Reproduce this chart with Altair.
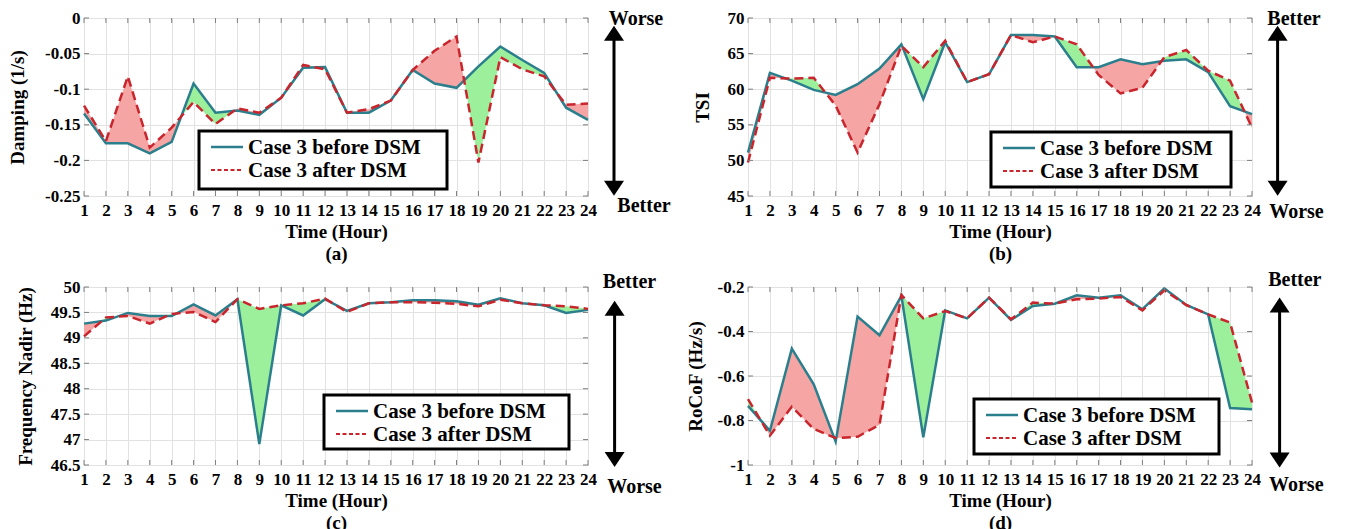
import altair as alt
import pandas as pd

hours = list(range(1, 25))

damping_before = [-0.134, -0.176, -0.176, -0.190, -0.174, -0.092, -0.133, -0.130, -0.136, -0.112, -0.070, -0.069,
                  -0.133, -0.133, -0.116, -0.073, -0.092, -0.098, -0.068, -0.040, -0.059, -0.077, -0.126, -0.143]
damping_after = [-0.123, -0.173, -0.082, -0.182, -0.154, -0.118, -0.149, -0.127, -0.133, -0.112, -0.066, -0.072,
                 -0.133, -0.128, -0.116, -0.073, -0.046, -0.026, -0.203, -0.055, -0.072, -0.082, -0.122, -0.120]

tsi_before = [51.1, 62.3, 61.2, 59.9, 59.2, 60.7, 62.9, 66.3, 58.6, 66.6, 61.0, 62.1,
              67.6, 67.6, 67.4, 63.1, 63.1, 64.2, 63.5, 64.0, 64.2, 62.4, 57.6, 56.5]
tsi_after = [49.7, 61.6, 61.5, 61.6, 57.7, 51.1, 57.9, 66.1, 63.1, 66.8, 61.0, 62.1,
             67.6, 66.6, 67.4, 66.3, 62.0, 59.4, 60.2, 64.5, 65.5, 62.6, 61.2, 54.6]

nadir_before = [49.28, 49.34, 49.49, 49.43, 49.43, 49.66, 49.44, 49.76, 46.91, 49.64, 49.44, 49.76,
                49.53, 49.68, 49.70, 49.74, 49.74, 49.72, 49.65, 49.78, 49.68, 49.64, 49.49, 49.55]
nadir_after = [49.03, 49.40, 49.43, 49.28, 49.47, 49.51, 49.31, 49.76, 49.57, 49.64, 49.68, 49.77,
               49.51, 49.68, 49.70, 49.70, 49.69, 49.67, 49.62, 49.75, 49.68, 49.64, 49.62, 49.57]

rocof_before = [-0.734, -0.846, -0.477, -0.637, -0.895, -0.333, -0.417, -0.240, -0.876, -0.305, -0.341, -0.248,
                -0.348, -0.285, -0.275, -0.237, -0.248, -0.237, -0.300, -0.206, -0.281, -0.323, -0.744, -0.749]
rocof_after = [-0.704, -0.868, -0.738, -0.838, -0.879, -0.873, -0.819, -0.236, -0.341, -0.308, -0.341, -0.248,
               -0.345, -0.270, -0.275, -0.255, -0.252, -0.245, -0.305, -0.215, -0.281, -0.323, -0.360, -0.719]

damping_ticks = [-0.25, -0.2, -0.15, -0.1, -0.05, 0]
tsi_ticks = [45, 50, 55, 60, 65, 70]
nadir_ticks = [46.5, 47, 47.5, 48, 48.5, 49, 49.5, 50]
rocof_ticks = [-1, -0.8, -0.6, -0.4, -0.2]

TEAL = "#2b7f8d"
RED = "#c9252c"
FILL_WORSE = "#f6a5a5"
FILL_BETTER = "#9cf09c"
FRAME = "#7f7f7f"
FONT = "Liberation Serif"
W, H = 504, 178


def fill_rows(before, after, higher_better):
    s = 1 if higher_better else -1
    n = len(hours)
    pts = []
    for i in range(n):
        d = (after[i] - before[i]) * s
        pts.append((hours[i], before[i], after[i], d))
        if i < n - 1:
            d2 = (after[i + 1] - before[i + 1]) * s
            if d * d2 < 0:
                t = d / (d - d2)
                xc = hours[i] + t * (hours[i + 1] - hours[i])
                yc = before[i] + t * (before[i + 1] - before[i])
                pts.append((xc, yc, yc, 0.0))
    rows = []
    run, cur, last = 0, None, -1
    for j in range(len(pts) - 1):
        p, q = pts[j], pts[j + 1]
        dm = p[3] if p[3] != 0 else q[3]
        if dm == 0:
            continue
        cls = "better" if dm > 0 else "worse"
        if cls != cur or last != j:
            run += 1
            cur = cls
            rows.append({"hour": p[0], "lo": p[1], "hi": p[2], "run": run, "cls": cls})
        rows.append({"hour": q[0], "lo": q[1], "hi": q[2], "run": run, "cls": cls})
        last = j + 1
    return pd.DataFrame(rows)


one = pd.DataFrame({"k": [0]})


def txt(x, y, s, size, align="center", baseline="alphabetic"):
    return alt.Chart(one).mark_text(align=align, baseline=baseline, font=FONT, fontWeight="bold",
                                    fontSize=size, color="black").encode(
        x=alt.value(x), y=alt.value(y), text=alt.value(s))


def panel(before, after, higher_better, ytitle, ydomain, yticks, letter, ytitle_pad,
          legend_box, arrow, top_label, bottom_label):
    xs = alt.Scale(domain=[1, 24], nice=False, zero=False)
    ys = alt.Scale(domain=ydomain, nice=False, zero=False)
    xaxis = alt.Axis(values=hours, title=["Time (Hour)", f"({letter})"], labelAngle=0,
                     labelOverlap=False, labelFlush=False, labelPadding=6, titlePadding=4,
                     titleLineHeight=22, grid=True, ticks=False, domain=False)
    yaxis = alt.Axis(values=yticks, title=ytitle, labelExpr="'' + datum.value", labelPadding=4,
                     labelFlush=False, titlePadding=ytitle_pad, grid=True, ticks=False, domain=False)

    area = alt.Chart(fill_rows(before, after, higher_better)).mark_area(opacity=1).encode(
        x=alt.X("hour:Q", scale=xs, axis=xaxis),
        y=alt.Y("lo:Q", scale=ys, axis=yaxis),
        y2="hi:Q",
        fill=alt.Fill("cls:N", scale=alt.Scale(domain=["worse", "better"],
                                               range=[FILL_WORSE, FILL_BETTER]), legend=None),
        detail="run:N",
    )
    df = pd.DataFrame({"hour": hours, "before": before, "after": after})
    l_before = alt.Chart(df).mark_line(color=TEAL, strokeWidth=2.5).encode(
        x=alt.X("hour:Q", scale=xs, axis=xaxis), y=alt.Y("before:Q", scale=ys, axis=yaxis))
    l_after = alt.Chart(df).mark_line(color=RED, strokeWidth=2.5, strokeDash=[9, 5]).encode(
        x=alt.X("hour:Q", scale=xs, axis=xaxis), y=alt.Y("after:Q", scale=ys, axis=yaxis))

    # inward MATLAB-style ticks
    tdf = pd.DataFrame({"hour": hours})
    ydf = pd.DataFrame({"v": yticks})
    xt_top = alt.Chart(tdf).mark_rule(color=FRAME, strokeWidth=1).encode(
        x=alt.X("hour:Q", scale=xs, axis=xaxis), y=alt.value(0), y2=alt.value(5))
    xt_bot = alt.Chart(tdf).mark_rule(color=FRAME, strokeWidth=1).encode(
        x=alt.X("hour:Q", scale=xs, axis=xaxis), y=alt.value(H - 5), y2=alt.value(H))
    yt_l = alt.Chart(ydf).mark_rule(color=FRAME, strokeWidth=1).encode(
        y=alt.Y("v:Q", scale=ys, axis=yaxis), x=alt.value(0), x2=alt.value(5))
    yt_r = alt.Chart(ydf).mark_rule(color=FRAME, strokeWidth=1).encode(
        y=alt.Y("v:Q", scale=ys, axis=yaxis), x=alt.value(W - 5), x2=alt.value(W))

    L, T, BW, BH = legend_box
    box = alt.Chart(one).mark_rect(fill="white", stroke="black", strokeWidth=3).encode(
        x=alt.value(L), x2=alt.value(L + BW), y=alt.value(T), y2=alt.value(T + BH))
    s1 = alt.Chart(one).mark_rule(color=TEAL, strokeWidth=2.5).encode(
        x=alt.value(L + 12), x2=alt.value(L + 44), y=alt.value(T + 16))
    s2 = alt.Chart(one).mark_rule(color=RED, strokeWidth=2, strokeDash=[4, 2.5]).encode(
        x=alt.value(L + 12), x2=alt.value(L + 44), y=alt.value(T + 39))
    t1 = txt(L + 49, T + 17, "Case 3 before DSM", 21, align="left", baseline="middle")
    t2 = txt(L + 49, T + 40, "Case 3 after DSM", 21, align="left", baseline="middle")

    ax, ytop, ybot = arrow
    shaft = alt.Chart(one).mark_rule(color="black", strokeWidth=3).encode(
        x=alt.value(W + ax), y=alt.value(ytop + 10), y2=alt.value(ybot - 10))
    up = alt.Chart(one).mark_point(shape="M-1,0.75L1,0.75L0,-0.75Z", filled=True, color="black",
                                   size=400, opacity=1).encode(
        x=alt.value(W + ax), y=alt.value(ytop + 7.5))
    down = alt.Chart(one).mark_point(shape="M-1,-0.75L1,-0.75L0,0.75Z", filled=True, color="black",
                                     size=400, opacity=1).encode(
        x=alt.value(W + ax), y=alt.value(ybot - 7.5))
    tl = txt(W + top_label[1], top_label[2], top_label[0], 20)
    bl = txt(W + bottom_label[1], bottom_label[2], bottom_label[0], 20)

    return alt.layer(area, l_before, l_after, xt_top, xt_bot, yt_l, yt_r,
                     box, s1, s2, t1, t2, shaft, up, down, tl, bl).properties(width=W, height=H)


pa = panel(damping_before, damping_after, False, "Damping (1/s)", [-0.25, 0], damping_ticks, "a", 17,
           (115, 113, 248, 58), (26, 7.7, 177.7), ("Worse", 48, 7), ("Better", 56, 194))
pb = panel(tsi_before, tsi_after, True, "TSI", [45, 70], tsi_ticks, "b", 15,
           (243, 114, 240, 55), (25.6, 7.7, 177.7), ("Better", 42, 7), ("Worse", 44.5, 200))
pc = panel(nadir_before, nadir_after, True, "Frequency Nadir (Hz)", [46.5, 50], nadir_ticks, "c", 15,
           (240, 108, 245, 54), (26.6, 13.7, 180), ("Better", 41.5, 1), ("Worse", 46.5, 206))
pd_ = panel(rocof_before, rocof_after, True, "RoCoF (Hz/s)", [-1, -0.2], rocof_ticks, "d", 12,
            (226, 112, 245, 55), (27.6, 10.6, 180.6), ("Better", 42.8, -1), ("Worse", 44.3, 204))

chart = alt.concat(pa, pb, pc, pd_, columns=2, spacing={"row": 91, "column": 160}, bounds="flush").properties(
    padding=0
).configure_view(
    stroke=FRAME, strokeWidth=1
).configure_axis(
    gridColor="#e2e2e2", gridWidth=1,
    labelFont=FONT, labelFontWeight="bold", labelFontSize=17, labelColor="black",
    titleFont=FONT, titleFontWeight="bold", titleFontSize=19, titleColor="black",
)

chart.save("out.html", embed_options={"renderer": "svg", "actions": False})
